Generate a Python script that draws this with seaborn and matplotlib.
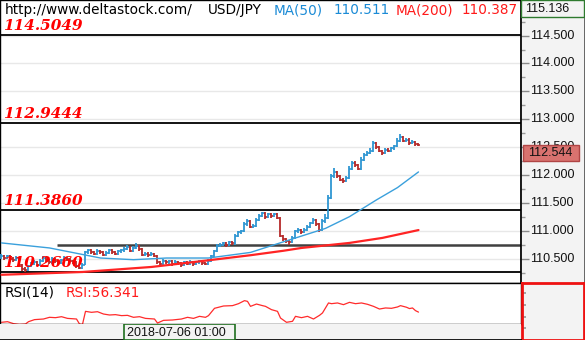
import numpy as np
import pandas as pd
import matplotlib
matplotlib.use("Agg")
import matplotlib.pyplot as plt
from matplotlib.patches import Rectangle
import seaborn as sns

# ---- USD/JPY hourly bars ----
opens = [110.54, 110.56, 110.52, 110.55, 110.50, 110.48, 110.52, 110.40, 110.33, 110.30,
         110.38, 110.42, 110.45, 110.40, 110.47, 110.52, 110.48, 110.44, 110.50, 110.46,
         110.43, 110.48, 110.52, 110.50, 110.47, 110.44, 110.38, 110.35, 110.40, 110.62,
         110.66, 110.63, 110.60, 110.65, 110.62, 110.58, 110.61, 110.66, 110.62, 110.60,
         110.64, 110.66, 110.68, 110.72, 110.65, 110.70, 110.74, 110.68, 110.58, 110.60,
         110.57, 110.59, 110.56, 110.45, 110.42, 110.47, 110.44, 110.46, 110.41, 110.45,
         110.43, 110.40, 110.44, 110.42, 110.45, 110.41, 110.44, 110.46, 110.43, 110.42,
         110.47, 110.55, 110.64, 110.74, 110.76, 110.78, 110.75, 110.80, 110.78, 110.92,
         110.98, 111.00, 111.12, 111.18, 111.08, 111.10, 111.20, 111.28, 111.32, 111.25,
         111.30, 111.27, 111.30, 111.24, 110.92, 110.86, 110.82, 110.80, 110.88, 111.00,
         111.02, 110.98, 111.02, 111.08, 111.14, 111.20, 111.12, 111.02, 111.18, 111.24,
         111.60, 111.98, 112.05, 111.98, 111.92, 111.90, 111.96, 112.12, 112.22, 112.18,
         112.12, 112.28, 112.36, 112.40, 112.44, 112.58, 112.50, 112.44, 112.40, 112.46,
         112.44, 112.48, 112.52, 112.62, 112.68, 112.62, 112.64, 112.58, 112.60, 112.56]
highs = [110.59, 110.58, 110.57, 110.57, 110.53, 110.55, 110.54, 110.42, 110.36, 110.40,
         110.45, 110.48, 110.47, 110.50, 110.55, 110.54, 110.50, 110.53, 110.52, 110.48,
         110.51, 110.55, 110.54, 110.52, 110.49, 110.46, 110.40, 110.43, 110.64, 110.69,
         110.68, 110.65, 110.68, 110.67, 110.64, 110.64, 110.69, 110.68, 110.64, 110.67,
         110.69, 110.71, 110.76, 110.74, 110.73, 110.78, 110.76, 110.70, 110.63, 110.62,
         110.62, 110.61, 110.58, 110.47, 110.50, 110.49, 110.49, 110.48, 110.48, 110.47,
         110.45, 110.47, 110.46, 110.48, 110.47, 110.47, 110.49, 110.48, 110.45, 110.50,
         110.58, 110.67, 110.77, 110.79, 110.81, 110.80, 110.83, 110.82, 110.95, 111.01,
         111.03, 111.16, 111.21, 111.20, 111.13, 111.23, 111.31, 111.35, 111.34, 111.33,
         111.32, 111.33, 111.32, 111.26, 110.94, 110.88, 110.85, 110.91, 111.03, 111.05,
         111.04, 111.05, 111.11, 111.17, 111.23, 111.22, 111.14, 111.21, 111.30, 111.64,
         112.02, 112.13, 112.07, 112.00, 111.95, 111.99, 112.16, 112.26, 112.25, 112.20,
         112.32, 112.39, 112.43, 112.48, 112.62, 112.60, 112.52, 112.46, 112.49, 112.48,
         112.51, 112.55, 112.66, 112.73, 112.70, 112.67, 112.66, 112.63, 112.62, 112.58]
lows = [110.51, 110.49, 110.50, 110.47, 110.45, 110.46, 110.37, 110.29, 110.27, 110.28,
        110.36, 110.40, 110.37, 110.38, 110.45, 110.45, 110.41, 110.42, 110.43, 110.40,
        110.41, 110.46, 110.47, 110.44, 110.41, 110.35, 110.32, 110.33, 110.39, 110.60,
        110.60, 110.57, 110.58, 110.59, 110.55, 110.56, 110.59, 110.59, 110.57, 110.58,
        110.61, 110.63, 110.66, 110.62, 110.63, 110.68, 110.65, 110.55, 110.56, 110.54,
        110.55, 110.53, 110.42, 110.38, 110.40, 110.41, 110.42, 110.38, 110.39, 110.40,
        110.36, 110.38, 110.39, 110.40, 110.38, 110.39, 110.42, 110.40, 110.39, 110.40,
        110.45, 110.53, 110.62, 110.71, 110.73, 110.72, 110.73, 110.75, 110.76, 110.90,
        110.95, 110.98, 111.10, 111.05, 111.05, 111.08, 111.18, 111.26, 111.22, 111.23,
        111.24, 111.25, 111.21, 110.89, 110.82, 110.78, 110.76, 110.78, 110.86, 110.97,
        110.95, 110.96, 111.00, 111.06, 111.12, 111.09, 110.98, 111.00, 111.15, 111.22,
        111.58, 111.95, 111.95, 111.89, 111.87, 111.88, 111.94, 112.10, 112.15, 112.09,
        112.10, 112.26, 112.34, 112.38, 112.42, 112.47, 112.41, 112.37, 112.38, 112.41,
        112.42, 112.46, 112.50, 112.60, 112.59, 112.60, 112.55, 112.56, 112.53, 112.52]
closes = [110.56, 110.52, 110.55, 110.50, 110.48, 110.52, 110.40, 110.33, 110.30, 110.38,
          110.42, 110.45, 110.40, 110.47, 110.52, 110.48, 110.44, 110.50, 110.46, 110.43,
          110.48, 110.52, 110.50, 110.47, 110.44, 110.38, 110.35, 110.40, 110.62, 110.66,
          110.63, 110.60, 110.65, 110.62, 110.58, 110.61, 110.66, 110.62, 110.60, 110.64,
          110.66, 110.68, 110.72, 110.65, 110.70, 110.74, 110.68, 110.58, 110.60, 110.57,
          110.59, 110.56, 110.45, 110.42, 110.47, 110.44, 110.46, 110.41, 110.45, 110.43,
          110.40, 110.44, 110.42, 110.45, 110.41, 110.44, 110.46, 110.43, 110.42, 110.47,
          110.55, 110.64, 110.74, 110.76, 110.78, 110.75, 110.80, 110.78, 110.92, 110.98,
          111.00, 111.12, 111.18, 111.08, 111.10, 111.20, 111.28, 111.32, 111.25, 111.30,
          111.27, 111.30, 111.24, 110.92, 110.86, 110.82, 110.80, 110.88, 111.00, 111.02,
          110.98, 111.02, 111.08, 111.14, 111.20, 111.12, 111.02, 111.18, 111.24, 111.60,
          111.98, 112.05, 111.98, 111.92, 111.90, 111.96, 112.12, 112.22, 112.18, 112.12,
          112.28, 112.36, 112.40, 112.44, 112.58, 112.50, 112.44, 112.40, 112.46, 112.44,
          112.48, 112.52, 112.62, 112.68, 112.62, 112.64, 112.58, 112.60, 112.56, 112.544]

# moving averages (bar index, value)
ma50_idx = [0, 16, 33, 44, 55, 69, 83, 94, 108, 116, 125, 132, 139]
ma50_val = [110.79, 110.70, 110.52, 110.49, 110.52, 110.52, 110.62, 110.81, 111.05,
            111.26, 111.56, 111.78, 112.06]
ma200_idx = [0, 27, 50, 66, 83, 94, 100, 116, 127, 139]
ma200_val = [110.22, 110.27, 110.36, 110.46, 110.57, 110.65, 110.70, 110.79, 110.88, 111.02]

# RSI(14)
rsi_idx = [0, 2, 4, 6, 8, 9, 11, 14, 16, 18, 20, 22, 25, 26, 27, 28, 30, 32, 34, 36,
           38, 40, 42, 44, 46, 48, 51, 52, 54, 57, 60, 62, 64, 66, 68, 69, 71, 74, 77, 79,
           81, 82, 83, 85, 87, 88, 90, 92, 93, 95, 97, 98, 100, 102, 104, 106, 107, 108, 109, 110,
           112, 114, 116, 118, 120, 122, 124, 126, 128, 130, 132, 133, 135, 136, 137, 138, 139]
rsi_val = [44.9, 45.6, 43.4, 42.6, 43.0, 45.6, 47.9, 48.6, 50.5, 50.1, 51.2, 49.3, 48.6, 43.0,
           42.6, 57.2, 56.1, 56.8, 54.2, 53.1, 53.5, 52.4, 52.7, 50.5, 51.2, 49.3, 48.6, 44.1,
           47.1, 47.5, 48.6, 50.5, 49.3, 51.6, 50.5, 52.4, 60.6, 63.2, 63.6, 65.8, 69.2, 68.4,
           62.8, 65.4, 63.6, 62.8, 59.1, 57.2, 49.7, 44.9, 46.0, 51.6, 50.1, 51.6, 48.6, 52.7,
           55.4, 61.0, 66.6, 65.8, 66.6, 64.7, 67.3, 65.8, 66.6, 65.1, 62.8, 59.8, 61.0, 60.6,
           62.1, 63.6, 61.8, 60.3, 61.0, 58.0, 56.341]

levels = [114.5049, 112.9444, 111.3860, 110.2660]
support_level = 110.75
support_from = 18.5
price_ticks = [110.5, 111.0, 111.5, 112.0, 112.5, 113.0, 113.5, 114.0, 114.5]
price_minor = [110.25, 110.75, 111.25, 111.75, 112.25, 112.75, 113.25, 113.75, 114.25, 114.75]
header_ma50 = "110.511"
header_ma200 = "110.387"
time_label = "2018-07-06 01:00"

# ---- styling ----
sns.set_theme(style="white")
plt.rcParams["font.family"] = ["DejaVu Sans"]

W, H = 585, 340
BLUE = "#2f96d2"
RED_BAR = "#b52a2a"
MA50_C = "#3aa0dc"
MA200_C = "#ff2424"
AXIS_BG = "#f3f3f3"
PRICE_LO, PRICE_HI = 110.073, 115.136
X_LO, X_HI = -0.5, 173.17
HDR_SIZE = 9.8


def fx(px):
    return px / W


def fy(py):
    return 1 - py / H


fig = plt.figure(figsize=(W / 100, H / 100), dpi=100)
fig.patch.set_facecolor("white")

# main price panel
ax = fig.add_axes([0, fy(283), fx(521), 283 / H])
ax.set_facecolor("white")
ax.set_xlim(X_LO, X_HI)
ax.set_ylim(PRICE_LO, PRICE_HI)
ax.set_xticks([])
ax.set_yticks(price_ticks)
ax.tick_params(left=False, right=False, labelleft=False)
ax.grid(axis="y", color="#e8e8e8", lw=1.0)
for s in ax.spines.values():
    s.set_color("black")
    s.set_linewidth(1.0)

df = pd.DataFrame({"x": np.arange(len(closes)), "o": opens, "h": highs, "l": lows, "c": closes})
cols = np.where(df["c"] >= df["o"], BLUE, RED_BAR)
ax.vlines(df["x"], df["l"], df["h"], colors=cols, lw=1.3, zorder=3)
ax.hlines(df["o"], df["x"] - 0.5, df["x"], colors=cols, lw=1.2, zorder=3)
ax.hlines(df["c"], df["x"], df["x"] + 0.5, colors=cols, lw=1.2, zorder=3)

sns.lineplot(x=ma50_idx, y=ma50_val, ax=ax, color=MA50_C, lw=1.0, zorder=4)
sns.lineplot(x=ma200_idx, y=ma200_val, ax=ax, color=MA200_C, lw=1.6, zorder=4)

ax.hlines(support_level, support_from, X_HI, colors="#404040", lw=1.8, zorder=2)
for lv in levels:
    ax.axhline(lv, color="black", lw=1.3, zorder=2)
    ax.annotate(f"{lv:.4f}", xy=(0.005, lv), xycoords=("axes fraction", "data"),
                xytext=(0, 5), textcoords="offset pixels", ha="left", va="baseline",
                family="DejaVu Serif", weight="bold", style="italic", size=11,
                color="#ff0000", zorder=6)

# header line
hdr_y = fy(10)
fig.text(fx(5), hdr_y, "http://www.deltastock.com/", size=HDR_SIZE, color="black", va="center")
fig.text(fx(208), hdr_y, "USD/JPY", size=HDR_SIZE, color="black", va="center")
fig.text(fx(274), hdr_y, "MA(50)", size=HDR_SIZE, color="#1b8bd6", va="center")
fig.text(fx(334), hdr_y, header_ma50, size=HDR_SIZE, color="#1b8bd6", va="center")
fig.text(fx(396), hdr_y, "MA(200)", size=HDR_SIZE, color="#ff1a1a", va="center")
fig.text(fx(462), hdr_y, header_ma200, size=HDR_SIZE, color="#ff1a1a", va="center")

# right price scale
axr = fig.add_axes([fx(521), fy(283), fx(64), 283 / H])
axr.set_facecolor(AXIS_BG)
axr.set_ylim(PRICE_LO, PRICE_HI)
axr.set_xlim(0, 1)
axr.set_xticks([])
axr.set_yticks(price_ticks)
axr.set_yticks(price_minor, minor=True)
axr.tick_params(axis="y", which="major", direction="in", length=6, width=1, color="#8a8a8a",
                left=True, right=False, labelleft=False)
axr.tick_params(axis="y", which="minor", direction="in", length=3, width=1, color="#9a9a9a",
                left=True, right=False, labelleft=False)
for s in ["top", "bottom"]:
    axr.spines[s].set_visible(False)
axr.spines["left"].set_color("black")
axr.spines["right"].set_color("#555555")
for t in price_ticks:
    axr.text(0.14, t, f"{t:.3f}", transform=axr.get_yaxis_transform(), ha="left", va="center",
             family="Liberation Sans", size=9, color="#111111")

# top-of-scale box
axr.add_patch(Rectangle((0.0, 1 - 17 / 283), 0.985, 17 / 283, transform=axr.transAxes,
                        facecolor=AXIS_BG, edgecolor="#2e7a2e", lw=1.0, zorder=5, clip_on=False))
axr.text(0.06, 1 - 8.5 / 283, f"{PRICE_HI:.3f}", transform=axr.transAxes, ha="left", va="center",
         family="Liberation Sans", size=9, color="#111111", zorder=6)

# last price box
last = closes[-1]
box_h = 16 / 55.8
axr.add_patch(Rectangle((0.03, last - box_h), 0.88, box_h, transform=axr.get_yaxis_transform(),
                        facecolor="#d9726f", edgecolor="#b04545", lw=1.0, zorder=5))
axr.text(0.11, last - box_h / 2, f"{last:.3f}", transform=axr.get_yaxis_transform(), ha="left",
         va="center", family="Liberation Sans", size=9, color="#111111", zorder=6)

# RSI panel
ax2 = fig.add_axes([0, fy(324), fx(521), 41 / H])
ax2.set_facecolor("white")
ax2.set_xlim(X_LO, X_HI)
ax2.set_ylim(43, 89)
ax2.set_xticks([])
ax2.set_yticks([])
for s in ax2.spines.values():
    s.set_color("black")
    s.set_linewidth(1.0)
sns.lineplot(x=rsi_idx, y=rsi_val, ax=ax2, color="#ff2b2b", lw=0.9)
ax2.text(5 / 521, 1 - 10 / 41, "RSI(14)", transform=ax2.transAxes, size=HDR_SIZE, color="black",
         va="center", ha="left")
ax2.text(66 / 521, 1 - 10 / 41, f"RSI:{rsi_val[-1]:.3f}", transform=ax2.transAxes,
         size=HDR_SIZE, color="#ff1a1a", va="center", ha="left")

# RSI scale box
ax3 = fig.add_axes([fx(522), 0, fx(62), 57 / H])
ax3.set_facecolor(AXIS_BG)
ax3.set_xticks([])
ax3.set_ylim(0, 57)
ax3.set_yticks([12, 23, 35, 47])
ax3.tick_params(axis="y", direction="in", length=3, color="#9a9a9a", left=True, labelleft=False)
for s in ax3.spines.values():
    s.set_color("#ee1111")
    s.set_linewidth(2.0)

# time strip
ax4 = fig.add_axes([0, 0, fx(521), 16 / H])
ax4.set_facecolor(AXIS_BG)
ax4.set_xticks([])
ax4.set_yticks([])
for s in ax4.spines.values():
    s.set_visible(False)
ax4.spines["bottom"].set_visible(True)
ax4.spines["bottom"].set_color("black")
ax4.add_patch(Rectangle((124 / 521, 0.0), 111 / 521, 1.0, transform=ax4.transAxes,
                        facecolor=AXIS_BG, edgecolor="#1e6e1e", lw=1.2, zorder=3))
ax4.text(127 / 521, 0.45, time_label, transform=ax4.transAxes, ha="left", va="center",
         family="Liberation Sans", size=9, color="#111111", zorder=4)

fig.savefig("out.png", dpi=100)
